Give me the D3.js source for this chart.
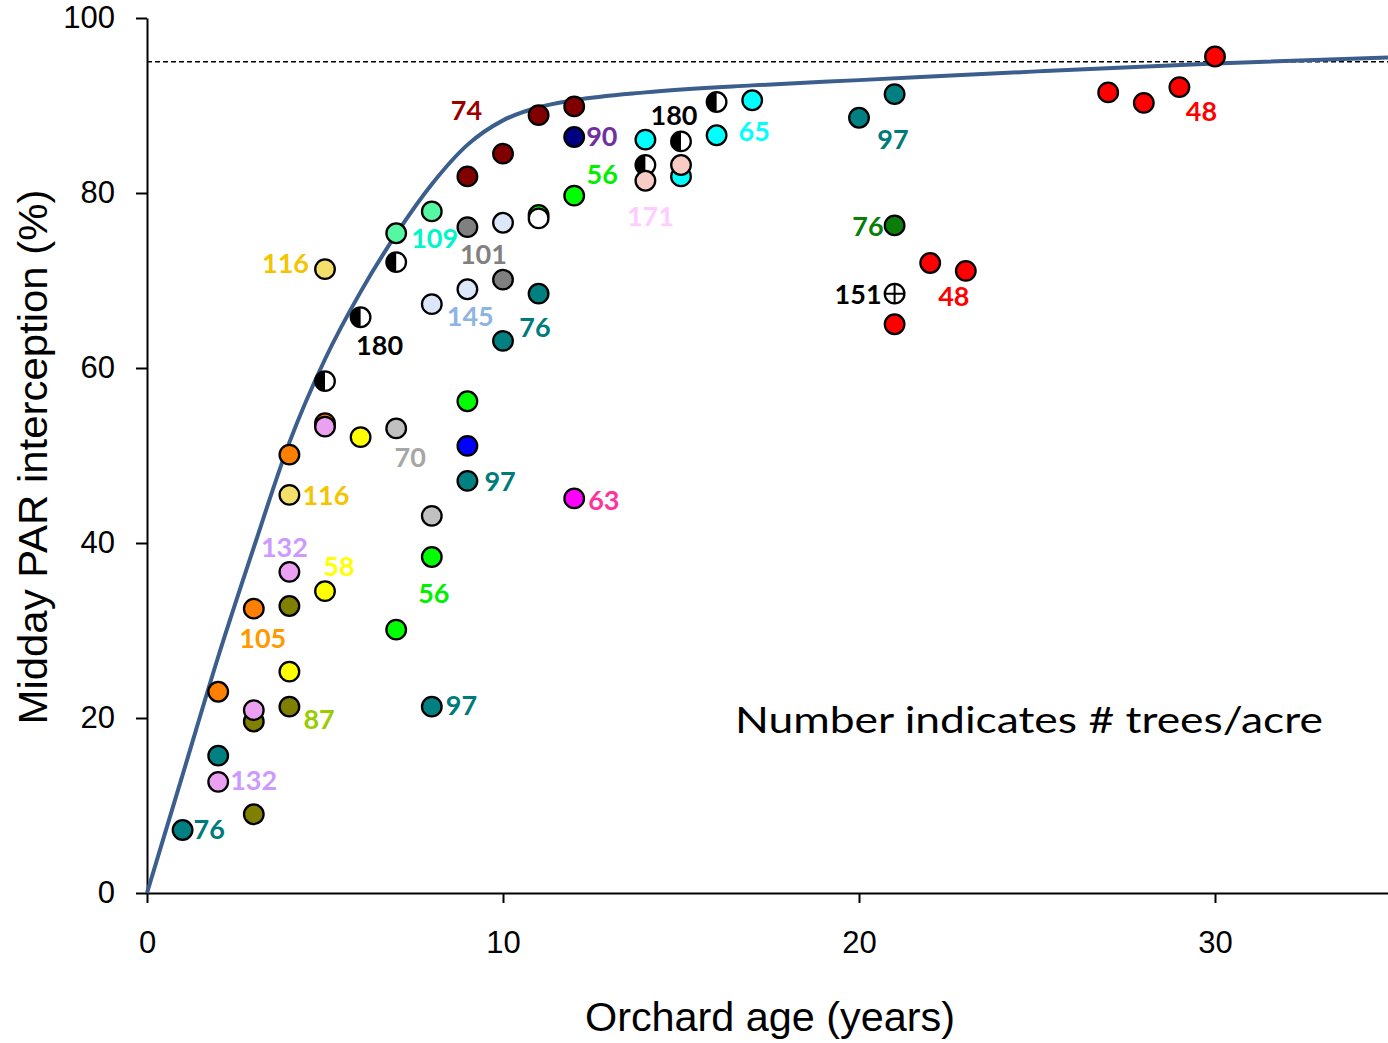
<!DOCTYPE html>
<html>
<head>
<meta charset="utf-8">
<script src="https://cdn.jsdelivr.net/npm/d3@7"></script>
<style>
  html, body { margin: 0; padding: 0; background: #fff; }
  svg { display: block; }
</style>
</head>
<body>
<svg id="chart" width="1388" height="1043"></svg>
<script>
// ---- Data -------------------------------------------------------------
// Orchard age (years) and midday PAR interception (%) for each orchard sample
const ages = [
  1, 2, 2, 2, 3, 3, 3, 3, 4, 4, 4, 4, 4, 4,
  5, 5, 5, 5, 5, 6, 6, 7, 7, 7, 7, 8, 8, 8, 8, 8,
  9, 9, 9, 9, 9, 9, 10, 10, 10, 10, 11, 11, 11, 11,
  12, 12, 12, 12, 14, 14, 14, 15, 15, 15, 16, 16, 17,
  20, 21, 21, 21, 21, 22, 23, 27, 28, 29, 30
];
const interception = [
  7.2, 23.0, 15.7, 12.7, 32.5, 19.6, 20.9, 9.0, 50.1, 45.5, 36.7, 32.8, 25.3, 21.3,
  71.3, 58.5, 53.7, 53.3, 34.5, 65.8, 52.1, 75.4, 72.1, 53.1, 30.1, 77.9, 67.3, 43.1, 38.4, 21.3,
  81.9, 76.1, 69.0, 56.2, 51.1, 47.1, 84.5, 76.6, 70.1, 63.1, 88.9, 77.5, 77.1, 68.5,
  89.9, 86.4, 79.7, 45.1, 86.1, 83.2, 81.4, 85.9, 81.9, 83.2, 90.4, 86.6, 90.6,
  88.6, 91.3, 76.3, 68.5, 65.0, 72.0, 71.1, 91.5, 90.3, 92.1, 95.6
];
// Orchard group of each sample
const orchards = [
  "teal", "orange", "teal", "violet", "orange", "olive", "violet", "olive",
  "orange", "khaki", "violet", "olive", "yellow", "olive",
  "khaki", "half", "orange", "violet", "yellow", "half", "yellow",
  "mint", "half", "silver", "lime", "mint", "lightblue", "silver", "lime", "teal",
  "darkred", "gray", "lightblue", "lime", "blue", "teal",
  "darkred", "lightblue", "gray", "teal", "darkred", "lime", "white", "teal",
  "darkred", "navy", "lime", "magenta", "cyan", "half", "pink", "half", "cyan", "pink",
  "half", "cyan", "cyan", "teal", "teal", "darkgreen", "cross", "red",
  "red", "red", "red", "red", "red", "red"
];

// Tree density labels (trees/acre), each attached to one sample
const labelTexts  = ["76", "132", "105", "87", "116", "132", "58", "116", "180", "70",
                     "109", "145", "56", "97", "101", "97", "76", "74", "90", "56",
                     "63", "171", "180", "65", "97", "76", "151", "48", "48"];
const labelAges   = [1, 2, 3, 4, 4, 4, 5, 5, 6, 7,
                     7, 8, 8, 8, 9, 9, 10, 9, 12, 12,
                     12, 14, 15, 17, 20, 21, 21, 23, 29];
const labelValues = [7.2, 12.7, 32.5, 21.3, 45.5, 36.7, 34.5, 71.3, 65.8, 53.1,
                     75.4, 67.3, 38.4, 21.3, 76.1, 47.1, 63.1, 81.9, 86.4, 79.7,
                     45.1, 81.4, 85.9, 90.6, 88.6, 76.3, 68.5, 71.1, 92.1];
const labelGroups = ["teal", "violetL", "orangeL", "olive87", "gold", "violetL", "yellow", "gold", "black", "silverL",
                     "aqua", "blueL", "lime", "teal", "gray", "teal", "teal", "darkredL", "purple", "lime",
                     "pinkL", "lilac", "black", "cyan", "teal", "darkgreen", "black", "red", "red"];

// Fitted canopy light-interception curve
const curveAges = [0, 1, 2, 3, 4, 5, 6, 7, 8, 9, 10, 11, 12, 14, 17, 20, 25, 30, 35];
const curvePAR  = [0, 13.5, 27, 39.5, 51.5, 61, 68.7, 75.3, 81, 85.5, 88.3, 89.8, 90.6, 91.5, 92.3, 92.9, 93.9, 94.8, 95.5];

const xTicks = [0, 10, 20, 30];
const yTicks = [0, 20, 40, 60, 80, 100];
const ceilingPAR = 95;

// ---- Styles -----------------------------------------------------------
const markerFill = {
  teal: "#008080", orange: "#FF8000", violet: "#EBA0F2", olive: "#808000",
  khaki: "#F4DF6A", yellow: "#FFFF00", half: "#FFFFFF", mint: "#55F7A3",
  silver: "#C0C0C0", lime: "#00FF00", lightblue: "#DCE8FA", darkred: "#800000",
  gray: "#808080", blue: "#0000FF", navy: "#000080", white: "#FFFFFF",
  magenta: "#FF00FF", cyan: "#00FFFF", pink: "#F8CBC4", darkgreen: "#0A7D0A",
  cross: "#FFFFFF", red: "#FF0000"
};
const labelColor = {
  teal: "#007B7B", violetL: "#CC99FF", orangeL: "#FF9900", olive87: "#99CC00",
  gold: "#F5C400", yellow: "#FFFF00", black: "#000000", silverL: "#A6A6A6",
  aqua: "#00F5C8", blueL: "#8DB4E2", lime: "#00F000", gray: "#808080",
  darkredL: "#990000", purple: "#7030A0", pinkL: "#FF3399", lilac: "#FFCCFF",
  cyan: "#00FFFF", darkgreen: "#0A7D0A", red: "#FF0000"
};
// Per-label offset from its sample [dx, dy, anchor]
const labelPlacement = [
  [11, -2, "start"], [12, -2, "start"], [9, 29, "middle"], [14, 12, "start"], [13, 0, "start"],
  [-5, -25, "middle"], [14, -26, "middle"], [-16, -7, "end"], [19, 27, "middle"], [14, 28, "middle"],
  [15, 4, "start"], [15, 11, "start"], [2, 35, "middle"], [14, -2, "start"], [16, 26, "middle"],
  [17, 0, "start"], [32, -14, "middle"], [-1, -67, "middle"], [12, -2, "start"], [28, -22, "middle"],
  [14, 1, "start"], [5, 35, "middle"], [-7, -27, "middle"], [2, 30, "middle"], [34, 21, "middle"],
  [-11, 0, "end"], [-13, 0, "end"], [-12, 25, "middle"], [22, 23, "middle"]
];

// ---- Layout -----------------------------------------------------------
const svg = d3.select("#chart");
const x = d3.scaleLinear().domain([0, 35]).range([147, 1393]);
const y = d3.scaleLinear().domain([0, 100]).range([893, 18]);
const R = 9.8;

// 95 % ceiling reference
svg.append("line")
  .attr("x1", x(0)).attr("x2", x(35))
  .attr("y1", y(ceilingPAR)).attr("y2", y(ceilingPAR))
  .attr("stroke", "#000").attr("stroke-width", 1.6)
  .attr("stroke-dasharray", "5,3");

// Axes
const xAxis = svg.append("g")
  .attr("transform", `translate(0,${y(0)})`)
  .call(d3.axisBottom(x).tickValues(xTicks).tickSize(10).tickSizeOuter(0).tickPadding(28));
const yAxis = svg.append("g")
  .attr("transform", `translate(${x(0)},0)`)
  .call(d3.axisLeft(y).tickValues(yTicks).tickSize(11).tickSizeOuter(0).tickPadding(21));
[xAxis, yAxis].forEach(g => {
  g.select(".domain").attr("stroke", "#000").attr("stroke-width", 2);
  g.selectAll(".tick line").attr("stroke", "#000").attr("stroke-width", 2);
  g.selectAll(".tick text")
    .attr("fill", "#000")
    .style("font-family", "'Liberation Sans', Arial, sans-serif")
    .style("font-size", "31px");
});

// Fitted curve
const line = d3.line()
  .x((d, i) => x(curveAges[i]))
  .y((d, i) => y(curvePAR[i]))
  .curve(d3.curveMonotoneX);
svg.append("path")
  .datum(curveAges)
  .attr("d", line)
  .attr("fill", "none")
  .attr("stroke", "#3B5E8C")
  .attr("stroke-width", 4);

// Samples
const samples = ages.map((a, i) => ({ age: a, par: interception[i], group: orchards[i] }));
const marks = svg.append("g").selectAll("g")
  .data(samples)
  .join("g")
  .attr("transform", d => `translate(${x(d.age)},${y(d.par)})`);

marks.append("circle")
  .attr("r", R)
  .attr("fill", d => markerFill[d.group]);

// half-filled markers: left half black
marks.filter(d => d.group === "half")
  .append("path")
  .attr("d", `M0,${-R} A${R},${R} 0 0 0 0,${R} Z`)
  .attr("fill", "#000");

// crosshair marker
marks.filter(d => d.group === "cross")
  .append("path")
  .attr("d", `M${-R},0 H${R} M0,${-R} V${R}`)
  .attr("stroke", "#000")
  .attr("stroke-width", 2);

marks.append("circle")
  .attr("r", R)
  .attr("fill", "none")
  .attr("stroke", "#000")
  .attr("stroke-width", 2.3);

// Density labels
svg.append("g").selectAll("text")
  .data(labelTexts)
  .join("text")
  .attr("x", (d, i) => x(labelAges[i]) + labelPlacement[i][0])
  .attr("y", (d, i) => y(labelValues[i]) + labelPlacement[i][1])
  .attr("text-anchor", (d, i) => labelPlacement[i][2])
  .attr("dominant-baseline", "central")
  .attr("fill", (d, i) => labelColor[labelGroups[i]])
  .style("font-family", "Lato, 'Open Sans', sans-serif")
  .style("font-weight", "bold")
  .style("font-size", "27px")
  .text(d => d);

// Note
svg.append("text")
  .attr("x", 735).attr("y", 733)
  .attr("textLength", 588).attr("lengthAdjust", "spacingAndGlyphs")
  .style("font-family", "Lato, 'Open Sans', sans-serif")
  .style("font-size", "36px")
  .attr("fill", "#000")
  .text("Number indicates # trees/acre");

// Axis titles
svg.append("text")
  .attr("x", 770).attr("y", 1031)
  .attr("text-anchor", "middle")
  .attr("textLength", 370).attr("lengthAdjust", "spacingAndGlyphs")
  .style("font-family", "'Liberation Sans', Arial, sans-serif")
  .style("font-size", "40px")
  .attr("fill", "#000")
  .text("Orchard age (years)");

svg.append("text")
  .attr("transform", "translate(47,457) rotate(-90)")
  .attr("text-anchor", "middle")
  .attr("textLength", 535).attr("lengthAdjust", "spacingAndGlyphs")
  .style("font-family", "'Liberation Sans', Arial, sans-serif")
  .style("font-size", "40px")
  .attr("fill", "#000")
  .text("Midday PAR interception (%)");
</script>
</body>
</html>
